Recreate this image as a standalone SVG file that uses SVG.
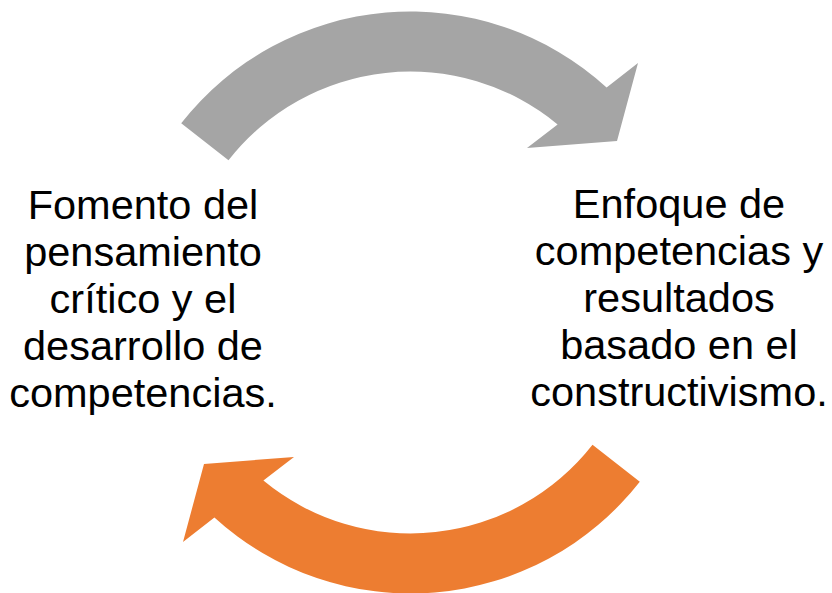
<svg xmlns="http://www.w3.org/2000/svg" width="832" height="593" viewBox="0 0 832 593">
<style>
.lbl{font-family:"Liberation Sans",Arial,sans-serif;font-size:41.5px;fill:#000;text-anchor:middle}
</style>
<rect width="832" height="593" fill="#fff"/>
<g id="connectors">
<path id="arrow-top" fill="#A5A5A5" transform="translate(410.5,302.5)" d="M -229.3,-179.2 A 291 291 0 0 1 196.1,-215.0 L 227.5,-239.5 L 206.5,-161.5 L 116.5,-154.5 L 147.1,-178.1 A 231 231 0 0 0 -182,-142.2 Z"/>
<path id="arrow-bottom" fill="#ED7D31" transform="translate(410.5,302.5) rotate(180)" d="M -229.3,-179.2 A 291 291 0 0 1 196.1,-215.0 L 227.5,-239.5 L 206.5,-161.5 L 116.5,-154.5 L 147.1,-178.1 A 231 231 0 0 0 -182,-142.2 Z"/>
</g>
<g id="node-left">
<text class="lbl" x="143" y="219">Fomento del</text>
<text class="lbl" x="143" y="266">pensamiento</text>
<text class="lbl" x="143" y="313">crítico y el</text>
<text class="lbl" x="143" y="360">desarrollo de</text>
<text class="lbl" x="143" y="407">competencias.</text>
</g>
<g id="node-right">
<text class="lbl" x="679" y="218">Enfoque de</text>
<text class="lbl" x="679" y="265">competencias y</text>
<text class="lbl" x="679" y="312">resultados</text>
<text class="lbl" x="679" y="359">basado en el</text>
<text class="lbl" x="679" y="406">constructivismo.</text>
</g>
</svg>
